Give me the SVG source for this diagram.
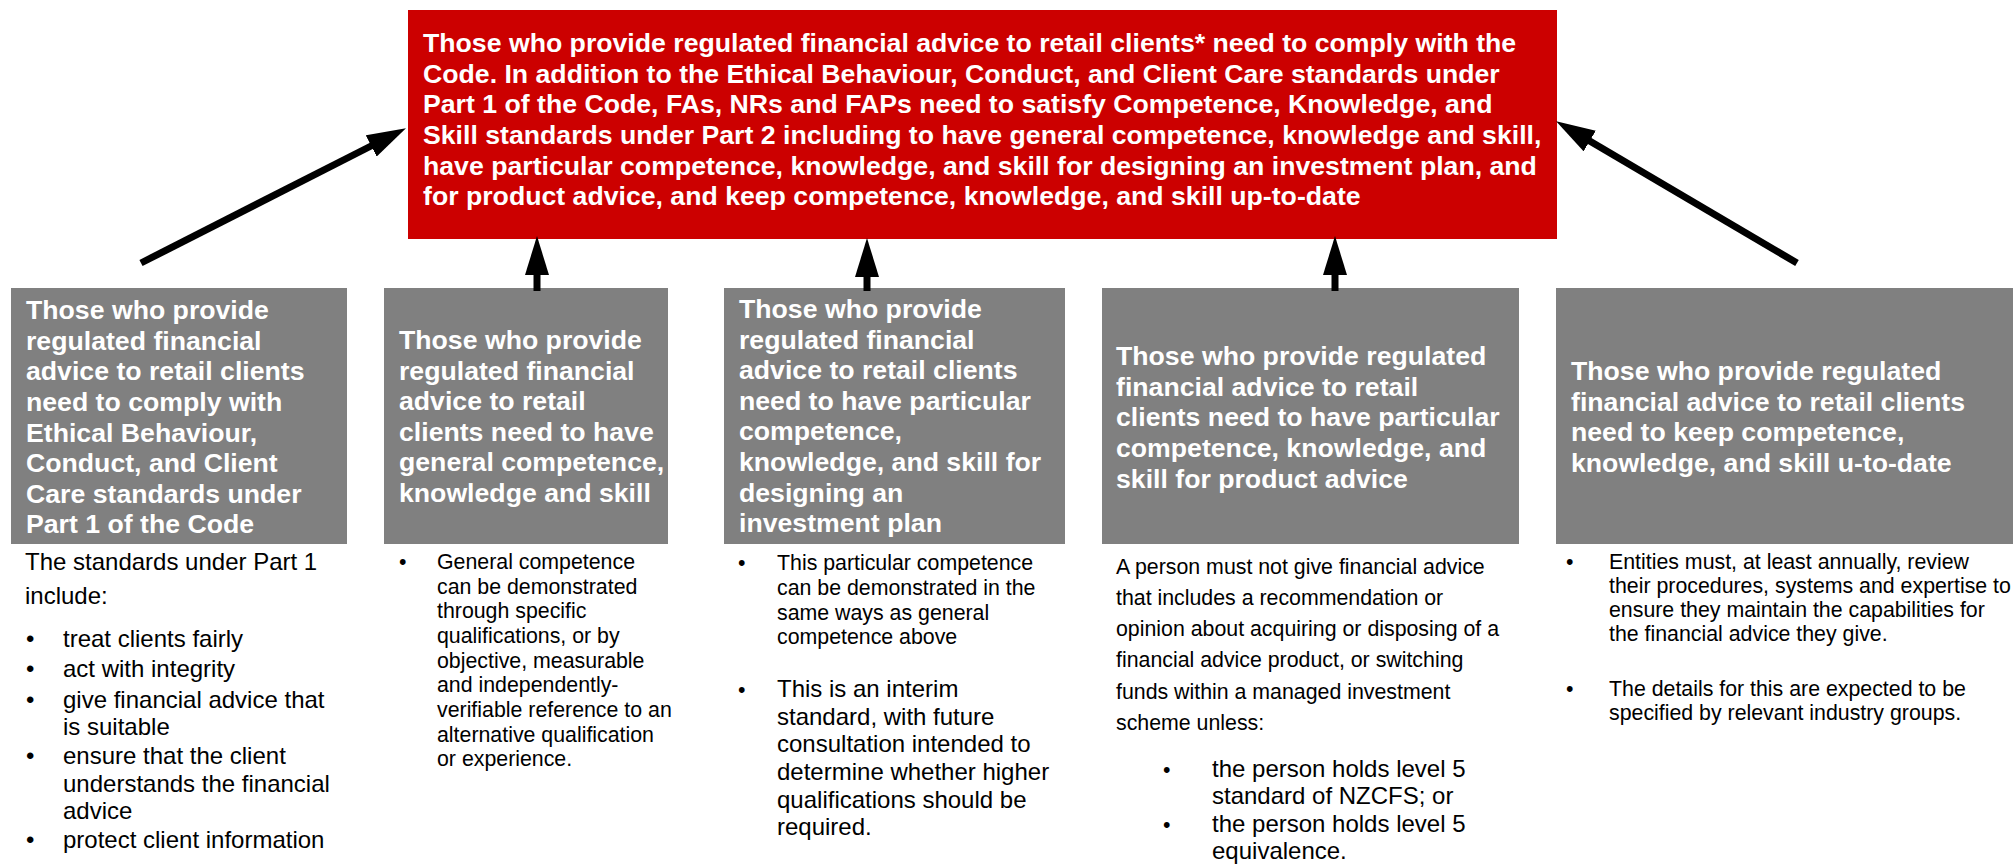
<svg xmlns="http://www.w3.org/2000/svg" width="2013" height="864" viewBox="0 0 2013 864">
  <defs>
    <style>
      .main { fill: #cc0000; }
      .card { fill: #808080; }
      .head { font-family: "Liberation Sans", Arial, sans-serif; font-weight: bold; font-size: 26.67px; fill: #ffffff; }
      .body { font-family: "Liberation Sans", Arial, sans-serif; fill: #000000; }
      .s24 { font-size: 24px; }
      .s21 { font-size: 21.33px; }
      .conn { stroke: #000000; stroke-width: 7; fill: none; marker-end: url(#arrowhead); }
    </style>
    <marker id="arrowhead" viewBox="0 0 39 24" refX="2" refY="12" markerUnits="userSpaceOnUse" markerWidth="39" markerHeight="24" orient="auto">
      <path d="M0,0 L39,12 L0,24 Z" fill="#000000"/>
    </marker>
  </defs>
  <rect width="2013" height="864" fill="#ffffff"/>

  <!-- central requirement box -->
  <g id="code-requirements">
    <rect class="main" x="408" y="10" width="1149" height="229"/>
    <text class="head">
      <tspan x="423" y="52">Those who provide regulated financial advice to retail clients* need to comply with the</tspan>
      <tspan x="423" y="83">Code. In addition to the Ethical Behaviour, Conduct, and Client Care standards under</tspan>
      <tspan x="423" y="113">Part 1 of the Code, FAs, NRs and FAPs need to satisfy Competence, Knowledge, and</tspan>
      <tspan x="423" y="144">Skill standards under Part 2 including to have general competence, knowledge and skill,</tspan>
      <tspan x="423" y="175">have particular competence, knowledge, and skill for designing an investment plan, and</tspan>
      <tspan x="423" y="205">for product advice, and keep competence, knowledge, and skill up-to-date</tspan>
    </text>
  </g>

  <!-- Part 1 standards -->
  <g id="part1-standards">
    <rect class="card" x="11" y="288" width="336" height="256"/>
    <text class="head">
      <tspan x="26" y="319">Those who provide</tspan>
      <tspan x="26" y="350">regulated financial</tspan>
      <tspan x="26" y="380">advice to retail clients</tspan>
      <tspan x="26" y="411">need to comply with</tspan>
      <tspan x="26" y="442">Ethical Behaviour,</tspan>
      <tspan x="26" y="472">Conduct, and Client</tspan>
      <tspan x="26" y="503">Care standards under</tspan>
      <tspan x="26" y="533">Part 1 of the Code</tspan>
    </text>
    <text class="body s24">
      <tspan x="25" y="570">The standards under Part 1</tspan>
      <tspan x="25" y="604">include:</tspan>
    </text>
    <text class="body s24">
      <tspan x="26" y="647">•</tspan>
      <tspan x="26" y="677">•</tspan>
      <tspan x="26" y="708">•</tspan>
      <tspan x="26" y="764">•</tspan>
      <tspan x="26" y="848">•</tspan>
    </text>
    <text class="body s24">
      <tspan x="63" y="647">treat clients fairly</tspan>
      <tspan x="63" y="677">act with integrity</tspan>
      <tspan x="63" y="708">give financial advice that</tspan>
      <tspan x="63" y="735">is suitable</tspan>
      <tspan x="63" y="764">ensure that the client</tspan>
      <tspan x="63" y="792">understands the financial</tspan>
      <tspan x="63" y="819">advice</tspan>
      <tspan x="63" y="848">protect client information</tspan>
    </text>
  </g>

  <!-- general competence -->
  <g id="general-competence">
    <rect class="card" x="384" y="288" width="284" height="256"/>
    <text class="head">
      <tspan x="399" y="349">Those who provide</tspan>
      <tspan x="399" y="380">regulated financial</tspan>
      <tspan x="399" y="410">advice to retail</tspan>
      <tspan x="399" y="441">clients need to have</tspan>
      <tspan x="399" y="471">general competence,</tspan>
      <tspan x="399" y="502">knowledge and skill</tspan>
    </text>
    <text class="body s21" x="399" y="569">•</text>
    <text class="body s21">
      <tspan x="437" y="569">General competence</tspan>
      <tspan x="437" y="594">can be demonstrated</tspan>
      <tspan x="437" y="618">through specific</tspan>
      <tspan x="437" y="643">qualifications, or by</tspan>
      <tspan x="437" y="668">objective, measurable</tspan>
      <tspan x="437" y="692">and independently-</tspan>
      <tspan x="437" y="717">verifiable reference to an</tspan>
      <tspan x="437" y="742">alternative qualification</tspan>
      <tspan x="437" y="766">or experience.</tspan>
    </text>
  </g>

  <!-- investment plan competence -->
  <g id="investment-plan">
    <rect class="card" x="724" y="288" width="341" height="256"/>
    <text class="head">
      <tspan x="739" y="318">Those who provide</tspan>
      <tspan x="739" y="349">regulated financial</tspan>
      <tspan x="739" y="379">advice to retail clients</tspan>
      <tspan x="739" y="410">need to have particular</tspan>
      <tspan x="739" y="440">competence,</tspan>
      <tspan x="739" y="471">knowledge, and skill for</tspan>
      <tspan x="739" y="502">designing an</tspan>
      <tspan x="739" y="532">investment plan</tspan>
    </text>
    <text class="body s21">
      <tspan x="738" y="570">•</tspan>
      <tspan x="738" y="697">•</tspan>
    </text>
    <text class="body s21">
      <tspan x="777" y="570">This particular competence</tspan>
      <tspan x="777" y="595">can be demonstrated in the</tspan>
      <tspan x="777" y="620">same ways as general</tspan>
      <tspan x="777" y="644">competence above</tspan>
    </text>
    <text class="body s24">
      <tspan x="777" y="697">This is an interim</tspan>
      <tspan x="777" y="725">standard, with future</tspan>
      <tspan x="777" y="752">consultation intended to</tspan>
      <tspan x="777" y="780">determine whether higher</tspan>
      <tspan x="777" y="808">qualifications should be</tspan>
      <tspan x="777" y="835">required.</tspan>
    </text>
  </g>

  <!-- product advice competence -->
  <g id="product-advice">
    <rect class="card" x="1102" y="288" width="417" height="256"/>
    <text class="head">
      <tspan x="1116" y="365">Those who provide regulated</tspan>
      <tspan x="1116" y="396">financial advice to retail</tspan>
      <tspan x="1116" y="426">clients need to have particular</tspan>
      <tspan x="1116" y="457">competence, knowledge, and</tspan>
      <tspan x="1116" y="488">skill for product advice</tspan>
    </text>
    <text class="body s21">
      <tspan x="1116" y="574">A person must not give financial advice</tspan>
      <tspan x="1116" y="605">that includes a recommendation or</tspan>
      <tspan x="1116" y="636">opinion about acquiring or disposing of a</tspan>
      <tspan x="1116" y="667">financial advice product, or switching</tspan>
      <tspan x="1116" y="699">funds within a managed investment</tspan>
      <tspan x="1116" y="730">scheme unless:</tspan>
    </text>
    <text class="body s21">
      <tspan x="1163" y="777">•</tspan>
      <tspan x="1163" y="832">•</tspan>
    </text>
    <text class="body s24">
      <tspan x="1212" y="777">the person holds level 5</tspan>
      <tspan x="1212" y="804">standard of NZCFS; or</tspan>
      <tspan x="1212" y="832">the person holds level 5</tspan>
      <tspan x="1212" y="859">equivalence.</tspan>
    </text>
  </g>

  <!-- keeping capability up to date -->
  <g id="up-to-date">
    <rect class="card" x="1556" y="288" width="457" height="256"/>
    <text class="head">
      <tspan x="1571" y="380">Those who provide regulated</tspan>
      <tspan x="1571" y="411">financial advice to retail clients</tspan>
      <tspan x="1571" y="441">need to keep competence,</tspan>
      <tspan x="1571" y="472">knowledge, and skill u-to-date</tspan>
    </text>
    <text class="body s21">
      <tspan x="1566" y="569">•</tspan>
      <tspan x="1566" y="696">•</tspan>
    </text>
    <text class="body s21">
      <tspan x="1609" y="569">Entities must, at least annually, review</tspan>
      <tspan x="1609" y="593">their procedures, systems and expertise to</tspan>
      <tspan x="1609" y="617">ensure they maintain the capabilities for</tspan>
      <tspan x="1609" y="641">the financial advice they give.</tspan>
      <tspan x="1609" y="696">The details for this are expected to be</tspan>
      <tspan x="1609" y="720">specified by relevant industry groups.</tspan>
    </text>
  </g>

  <!-- arrows into the central box -->
  <g id="connectors">
    <path class="conn" d="M141,263 L373,145"/>
    <path class="conn" d="M537,291 L537,273"/>
    <path class="conn" d="M867,291 L867,275"/>
    <path class="conn" d="M1335,291 L1335,273"/>
    <path class="conn" d="M1797,263 L1588,140"/>
  </g>
</svg>
